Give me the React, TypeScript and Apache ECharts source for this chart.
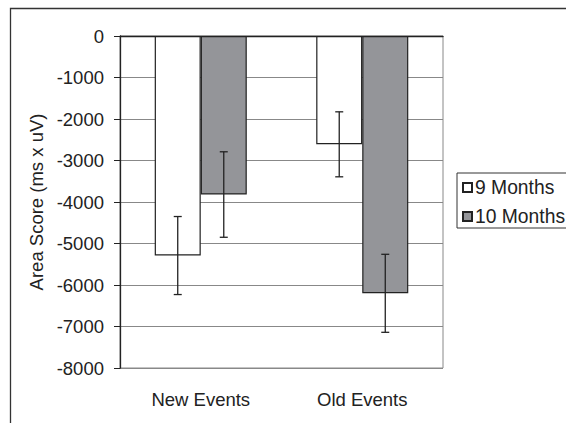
import React, { useEffect, useRef } from "react";
import * as echarts from "echarts";

const categories = ["New Events", "Old Events"];
const seriesNames = ["9 Months", "10 Months"];
const nineMonths = [-5290, -2610];
const nineMonthsErr = [940, 783];
const tenMonths = [-3820, -6200];
const tenMonthsErr = [1030, 940];
const yTicks = { min: -8000, max: 0, interval: 1000 };

const BAR_GAP_RATIO = 0.43;

export default function App() {
  const ref = useRef<HTMLDivElement>(null);
  useEffect(() => {
    if (!ref.current) return;
    const chart = echarts.init(ref.current, null, { renderer: "svg" });
    const errData: number[][] = [];
    categories.forEach((_, i) => {
      errData.push([i, nineMonths[i] - nineMonthsErr[i], nineMonths[i] + nineMonthsErr[i], 0]);
      errData.push([i, tenMonths[i] - tenMonthsErr[i], tenMonths[i] + tenMonthsErr[i], 1]);
    });
    const font = "Liberation Sans, Arial, sans-serif";
    chart.setOption({
      animation: false,
      textStyle: { fontFamily: font },
      graphic: [
        {
          type: "rect",
          shape: { x: 10.5, y: 8.5, width: 700, height: 600 },
          style: { fill: "none", stroke: "#333", lineWidth: 1.3 },
          silent: true,
          z: -1,
        },
      ],
      grid: {
        left: 120,
        top: 36,
        right: 123,
        bottom: 55,
        show: true,
        borderColor: "#888",
        borderWidth: 1,
      },
      legend: {
        data: seriesNames,
        orient: "vertical",
        left: 457,
        top: 173,
        icon: "rect",
        itemWidth: 9,
        itemHeight: 9,
        itemGap: 10,
        padding: [5, 14, 2, 5],
        borderColor: "#333",
        borderWidth: 1,
        textStyle: { fontSize: 19.3, color: "#222", fontFamily: font, padding: [0, 0, 0, -2] },
      },
      xAxis: {
        type: "category",
        data: categories,
        axisTick: { show: false },
        axisLine: { lineStyle: { color: "#222", width: 1.3 } },
        axisLabel: { fontSize: 18.5, color: "#222", margin: 22, fontFamily: font },
        splitLine: { show: false },
      },
      yAxis: {
        type: "value",
        min: yTicks.min,
        max: yTicks.max,
        interval: yTicks.interval,
        name: "Area Score (ms x uV)",
        nameLocation: "middle",
        nameGap: 72,
        nameTextStyle: { fontSize: 18.5, color: "#222", fontFamily: font },
        axisLine: { show: true, lineStyle: { color: "#222", width: 1.3 } },
        axisTick: { show: true, length: 6, lineStyle: { color: "#222" } },
        axisLabel: {
          fontSize: 18.5,
          color: "#222",
          margin: 16,
          fontFamily: font,
          formatter: (v: number) => String(v),
        },
        splitLine: { lineStyle: { color: "#888", width: 1.2 } },
      },
      series: [
        {
          name: seriesNames[0],
          type: "bar",
          data: nineMonths,
          barGap: "0%",
          barCategoryGap: BAR_GAP_RATIO * 100 + "%",
          itemStyle: { color: "#ffffff", borderColor: "#222", borderWidth: 1.2 },
        },
        {
          name: seriesNames[1],
          type: "bar",
          data: tenMonths,
          barGap: "0%",
          barCategoryGap: BAR_GAP_RATIO * 100 + "%",
          itemStyle: { color: "#949599", borderColor: "#222", borderWidth: 1.2 },
        },
        {
          type: "custom",
          name: "err",
          data: errData,
          z: 10,
          renderItem: (params: any, api: any) => {
            const cat = api.value(0);
            const lo = api.value(1);
            const hi = api.value(2);
            const s = api.value(3);
            const bandW = api.size([1, 0])[0];
            const barW = (bandW * (1 - BAR_GAP_RATIO)) / 2;
            const off = s === 0 ? -barW / 2 : barW / 2;
            const pLo = api.coord([cat, lo]);
            const pHi = api.coord([cat, hi]);
            const x = pLo[0] + off;
            const cap = 4;
            const style = { stroke: "#222", lineWidth: 1.3 };
            return {
              type: "group",
              children: [
                { type: "line", shape: { x1: x, y1: pLo[1], x2: x, y2: pHi[1] }, style },
                { type: "line", shape: { x1: x - cap, y1: pLo[1], x2: x + cap, y2: pLo[1] }, style },
                { type: "line", shape: { x1: x - cap, y1: pHi[1], x2: x + cap, y2: pHi[1] }, style },
              ],
            };
          },
        },
      ],
    });
    return () => chart.dispose();
  }, []);
  return (
    <div
      ref={ref}
      style={{ position: "absolute", left: 0, top: 0, width: 566, height: 423 }}
    />
  );
}
